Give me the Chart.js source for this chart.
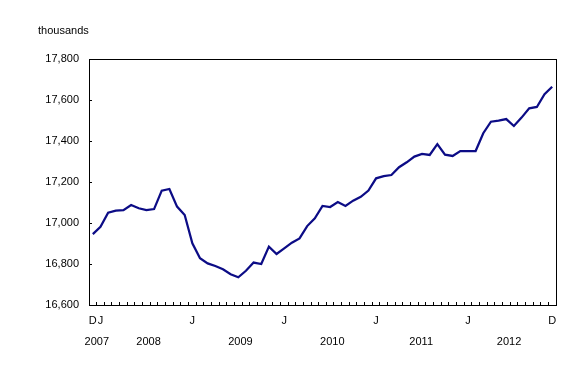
<!DOCTYPE html>
<html>
<head>
<meta charset="utf-8">
<script src="https://cdn.jsdelivr.net/npm/chart.js@4/dist/chart.umd.min.js"></script>
<style>
  html, body { margin: 0; padding: 0; background: #fff; }
  #wrap { width: 588px; height: 380px; }
</style>
</head>
<body>
<div id="wrap"><canvas id="c" width="588" height="380"></canvas></div>
<script>
// Months Dec 2007 .. Dec 2012
const months = ['D','J','F','M','A','M','J','J','A','S','O','N','D'];
const years = ['2007','2008','2009','2010','2011','2012'];
const categories = [];
const monthLetters = ['J','F','M','A','M','J','J','A','S','O','N','D'];
categories.push('D 2007');
for (let y = 2008; y <= 2012; y++) {
  for (let m = 0; m < 12; m++) categories.push(monthLetters[m] + ' ' + y);
}

const values2007 = [16946];
const values2008 = [16982, 17050, 17060, 17063, 17088, 17072, 17063, 17068, 17158, 17166, 17080, 17039];
const values2009 = [16901, 16828, 16803, 16790, 16774, 16750, 16735, 16767, 16807, 16800, 16885, 16849];
const values2010 = [16876, 16904, 16925, 16985, 17023, 17083, 17078, 17102, 17083, 17109, 17128, 17158];
const values2011 = [17218, 17229, 17234, 17272, 17296, 17324, 17337, 17332, 17385, 17333, 17327, 17351];
const values2012 = [17351, 17351, 17438, 17494, 17499, 17507, 17473, 17514, 17559, 17566, 17628, 17665];
const employment = [].concat(values2007, values2008, values2009, values2010, values2011, values2012);

const tickLabelIdx = { 0: 'D', 1: 'J', 13: 'J', 25: 'J', 37: 'J', 49: 'J', 60: 'D' };
// year label: first and last category index of each year
const yearSpans = [[0,0],[1,12],[13,24],[25,36],[37,48],[49,60]];
const yearOffsets = [4, 6, 6, 6, 3, -1];

const FONT = 'Liberation Sans, Arial, sans-serif';

const extras = {
  id: 'extras',
  afterDraw(chart) {
    const ctx = chart.ctx;
    const a = chart.chartArea;
    const xs = chart.scales.x;
    ctx.save();
    ctx.strokeStyle = '#000';
    ctx.lineWidth = 1;
    ctx.strokeRect(Math.round(a.left) + 0.5, Math.round(a.top) + 0.5, Math.round(a.right - a.left), Math.round(a.bottom - a.top));
    ctx.fillStyle = '#000';
    ctx.font = '11px ' + FONT;
    ctx.textAlign = 'left';
    ctx.textBaseline = 'alphabetic';
    ctx.fillText('thousands', 38, 34);
    ctx.textAlign = 'center';
    ctx.textBaseline = 'middle';
    years.forEach((yr, i) => {
      const [s, e] = yearSpans[i];
      const x = (xs.getPixelForValue(s) + xs.getPixelForValue(e)) / 2 + yearOffsets[i];
      ctx.fillText(yr, x, a.bottom + 37);
    });
    ctx.restore();
  }
};

new Chart(document.getElementById('c'), {
  type: 'line',
  data: {
    labels: categories,
    datasets: [{
      data: employment,
      borderColor: '#0c0c86',
      borderWidth: 2.25,
      pointRadius: 0,
      tension: 0,
      fill: false
    }]
  },
  options: {
    responsive: false,
    animation: false,
    devicePixelRatio: 1,
    layout: { padding: { top: 59, right: 32, left: 0, bottom: 0 } },
    plugins: { legend: { display: false }, tooltip: { enabled: false } },
    scales: {
      x: {
        type: 'category',
        offset: true,
        border: { display: false },
        grid: { offset: true, drawOnChartArea: false, tickLength: -3, color: '#000', lineWidth: 1 },
        ticks: {
          autoSkip: false, maxRotation: 0, minRotation: 0, padding: 12,
          color: '#000', font: { family: FONT, size: 11 },
          callback: (v, i) => tickLabelIdx[i] || ''
        },
        afterFit: (s) => { s.height = 75; }
      },
      y: {
        min: 16600, max: 17800,
        border: { display: false },
        grid: { drawOnChartArea: false, tickLength: -3, color: '#000', lineWidth: 1 },
        ticks: {
          stepSize: 200, padding: 13, color: '#000', font: { family: FONT, size: 11 },
          callback: (v) => v.toLocaleString('en-US')
        },
        afterFit: (s) => { s.width = 89; }
      }
    }
  },
  plugins: [extras]
});
</script>
</body>
</html>
